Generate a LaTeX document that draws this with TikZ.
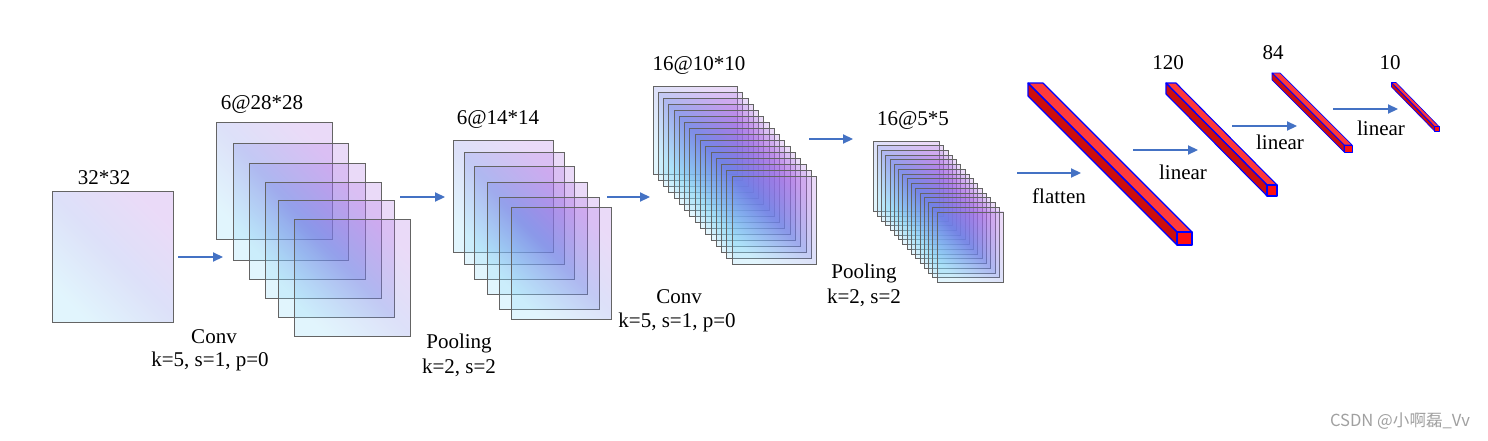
\documentclass[tikz,border=0pt]{standalone}
\usepackage{fontspec}
\setmainfont{Liberation Serif}
\newfontfamily\cjkfont{Noto Sans CJK SC}
\usetikzlibrary{arrows.meta}
\definecolor{mapgray}{HTML}{646464}
\definecolor{mapcyan}{HTML}{82D4F5}
\definecolor{mapmid}{HTML}{6F80E4}
\definecolor{mapviolet}{HTML}{A866E2}
\definecolor{arrblue}{HTML}{4472C4}
\definecolor{bartop}{HTML}{FF3A3A}
\definecolor{barside}{HTML}{CC0E0E}
\definecolor{barfront}{HTML}{FF1010}
\definecolor{barline}{HTML}{0000FF}
\definecolor{wmgray}{HTML}{A0A0A0}
\tikzset{
  fmap/.style={draw=mapgray, line width=0.45pt, top color=mapviolet, bottom color=mapcyan, middle color=mapmid, shading angle=-45, fill opacity=0.24, draw opacity=1},
  arr/.style={draw=arrblue, line width=0.6pt, -{Triangle[length=5pt,width=4.6pt]}},
  lbl/.style={font=\fontsize{10.5}{12}\selectfont, inner sep=0pt},
  wm/.style={font=\cjkfont\fontsize{8.3}{10}\selectfont, text=wmgray, inner sep=0pt},
  barface/.style={draw=barline, line width=0.55pt, line join=round},
  thinbar/.style={barface/.append style={line width=0.35pt}}
}
\newcommand{\redbar}[7][]{% fx fy w h dx dy
  \begin{scope}[#1]
  \fill[bartop] (#2,#3) -- ++(#4,0) -- ++(#6,#7) -- ++(-#4,0) -- cycle;
  \fill[barside] (#2,#3) -- ++(0,#5) -- ++(#6,#7) -- ++(0,-#5) -- cycle;
  \draw[barface] (#2,#3) -- ++(#4,0) -- ++(#6,#7) -- ++(-#4,0) -- cycle;
  \draw[barface] (#2,#3) -- ++(0,#5) -- ++(#6,#7) -- ++(0,-#5) -- cycle;
  \draw[barface, fill=barfront] (#2,#3) rectangle ++(#4,#5);
  \end{scope}
}
\begin{document}
\begin{tikzpicture}[x=0.5pt,y=-0.5pt]
\useasboundingbox (0,0) rectangle (1488,440);
% input
\path[fmap] (52,191) rectangle (173,322);
\node[lbl] (l3232) at (104,178) {32*32};
% conv1 stack
\foreach \a/\b/\c/\d in {216/122/332/239, 233/143/348/260, 249/163/365/279, 265/182/381/298, 278/200/394/317, 294/219/410/336}
  \path[fmap] (\a,\b) rectangle (\c,\d);
\node[lbl] (l2828) at (262,104) {6@28*28};
\node[lbl] (conva) at (214,337) {Conv};
\node[lbl] (convap) at (210,361) {k=5, s=1, p=0};
% pool1 stack
\foreach \a/\b/\c/\d in {453/140/553/252, 464/152/564/264, 474/166/574/279, 487/182/587/294, 499/197/599/309, 511/207/611/319}
  \path[fmap] (\a,\b) rectangle (\c,\d);
\node[lbl] (l1414) at (498,119) {6@14*14};
\node[lbl] (poola) at (459,343) {Pooling};
\node[lbl] (poolap) at (459,368) {k=2, s=2};
% conv2 stack
\foreach \i in {0,...,15}
  \path[fmap] (653+5.27*\i,86+6*\i) rectangle ++(84.5,88);
\node[lbl] (l1010) at (699,65) {16@10*10};
\node[lbl] (convb) at (679,297) {Conv};
\node[lbl] (convbp) at (677,322) {k=5, s=1, p=0};
% pool2 stack
\foreach \i in {0,...,15}
  \path[fmap] (873+4.27*\i,141+4.73*\i) rectangle ++(66.5,70.5);
\node[lbl] (l55) at (913,120) {16@5*5};
\node[lbl] (poolb) at (864,273) {Pooling};
\node[lbl] (poolbp) at (864,298) {k=2, s=2};
% bars
\redbar{1177}{232}{15}{13}{-149}{-149}
\redbar{1267}{185}{10}{11}{-101}{-102}
\redbar[thinbar]{1344}{145}{8}{7}{-72}{-72}
\redbar[barface/.append style={line width=0.3pt}]{1434.5}{126.5}{4.5}{4.5}{-43}{-44}
\node[lbl] (flat) at (1059,196) {flatten};
\node[lbl] (n120) at (1168,63) {120};
\node[lbl] (n84) at (1273,53) {84};
\node[lbl] (n10) at (1390,63) {10};
\node[lbl] (lina) at (1183,172) {linear};
\node[lbl] (linb) at (1280,142) {linear};
\node[lbl] (linc) at (1381,128) {linear};
% arrows
\coordinate (a1s) at (178,257); \coordinate (a1e) at (223,257);
\coordinate (a2s) at (400,197); \coordinate (a2e) at (445,197);
\coordinate (a3s) at (607,197); \coordinate (a3e) at (650,197);
\coordinate (a4s) at (809,139); \coordinate (a4e) at (853,139);
\coordinate (a5s) at (1017,173); \coordinate (a5e) at (1081,173);
\coordinate (a6s) at (1133,150); \coordinate (a6e) at (1198,150);
\coordinate (a7s) at (1232,126); \coordinate (a7e) at (1297,126);
\coordinate (a8s) at (1333,109); \coordinate (a8e) at (1398,109);
\foreach \k in {1,...,8} \draw[arr] (a\k s) -- (a\k e);
% watermark
\node[wm] (wmark) at (1400,421) {CSDN @小啊磊\_Vv};
\end{tikzpicture}
\end{document}
